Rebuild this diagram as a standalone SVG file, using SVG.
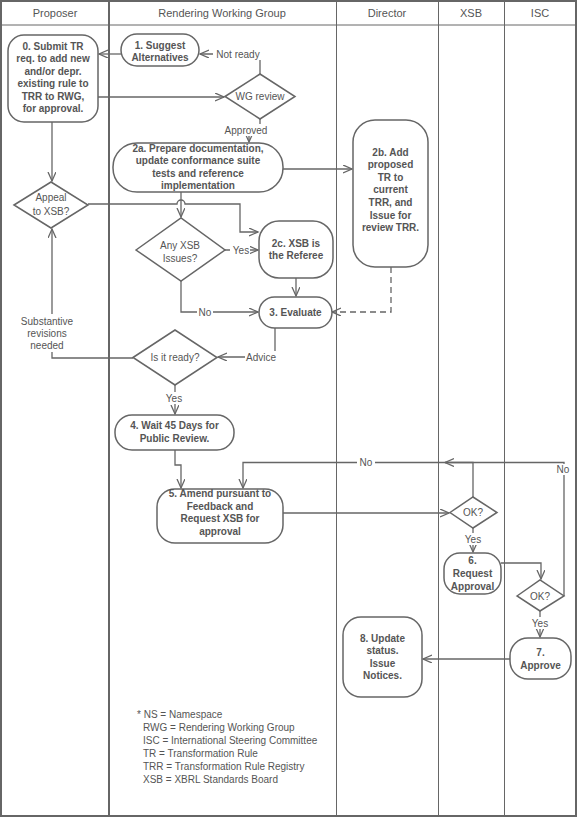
<svg xmlns="http://www.w3.org/2000/svg" width="577" height="817" viewBox="0 0 577 817">
<style>
.ln{stroke:#666;stroke-width:1.3;fill:none}
.nd{stroke:#666;stroke-width:1.5;fill:#fff}
.t{font-family:"Liberation Sans",Arial,sans-serif;font-size:10px;fill:#555;text-anchor:middle}
.b{font-weight:bold}
.h{font-family:"Liberation Sans",Arial,sans-serif;font-size:11px;fill:#555;text-anchor:middle}
.lg{font-family:"Liberation Sans",Arial,sans-serif;font-size:10px;fill:#555}
.bg{fill:#fff}
</style>
<defs>
<marker id="a" markerUnits="userSpaceOnUse" markerWidth="12" markerHeight="10" refX="9" refY="4" orient="auto">
<path d="M0,0 L9,4 L0,8" fill="none" stroke="#666" stroke-width="1.3"/>
</marker>
</defs>
<rect width="577" height="817" fill="#fff"/>
<g id="lanes">
<rect x="1" y="1" width="575" height="815" fill="none" stroke="#666" stroke-width="2"/>
<line x1="0" y1="25" x2="577" y2="25" stroke="#666" stroke-width="1"/>
<line x1="109" y1="0" x2="109" y2="817" stroke="#666" stroke-width="2"/>
<line x1="336.5" y1="0" x2="336.5" y2="817" stroke="#666" stroke-width="1"/>
<line x1="438.5" y1="0" x2="438.5" y2="817" stroke="#666" stroke-width="1"/>
<line x1="504.5" y1="0" x2="504.5" y2="817" stroke="#666" stroke-width="1"/>
<text class="h" x="55" y="17">Proposer</text>
<text class="h" x="222" y="17">Rendering Working Group</text>
<text class="h" x="387" y="17">Director</text>
<text class="h" x="471" y="17">XSB</text>
<text class="h" x="540" y="17">ISC</text>
</g>
<g id="connectors">
<path class="ln" d="M121,54 H99" marker-end="url(#a)"/>
<path class="ln" d="M260,74 V54 H200" marker-end="url(#a)"/>
<path class="ln" d="M98,97 H224" marker-end="url(#a)"/>
<path class="ln" d="M260,119 V130 H249 V142" marker-end="url(#a)"/>
<path class="ln" d="M283,169 H352" marker-end="url(#a)"/>
<path class="ln" d="M52,122 V181" marker-end="url(#a)"/>
<path class="ln" d="M88,204 H177 A4,4 0 0 1 185,204 H240 V232 H258" marker-end="url(#a)"/>
<path class="ln" d="M181,192 V217" marker-end="url(#a)"/>
<path class="ln" d="M225,250 H258" marker-end="url(#a)"/>
<path class="ln" d="M181,281 V312 H258" marker-end="url(#a)"/>
<path class="ln" d="M296,278 V296" marker-end="url(#a)"/>
<path class="ln" d="M391,267 V312 H332" stroke-dasharray="6,4" marker-end="url(#a)"/>
<path class="ln" d="M275,328 V357 H218" marker-end="url(#a)"/>
<path class="ln" d="M133,358 H52 V229" marker-end="url(#a)"/>
<path class="ln" d="M175,385 V414" marker-end="url(#a)"/>
<path class="ln" d="M175,450 V465 H181 V488" marker-end="url(#a)"/>
<path class="ln" d="M283,513 H449" marker-end="url(#a)"/>
<path class="ln" d="M473,497 V462.5 H243 V488" marker-end="url(#a)"/>
<path class="ln" d="M564,596 V462.5 H445" marker-end="url(#a)"/>
<path class="ln" d="M473,528 V552" marker-end="url(#a)"/>
<path class="ln" d="M501,563 H541 V579" marker-end="url(#a)"/>
<path class="ln" d="M540,611 V637" marker-end="url(#a)"/>
<path class="ln" d="M510,659 H423" marker-end="url(#a)"/>
<rect class="bg" x="213" y="48" width="51" height="12"/>
<text class="t" x="238" y="57.5">Not ready</text>
<rect class="bg" x="222" y="124" width="49" height="12"/>
<text class="t" x="246" y="133.5">Approved</text>
<rect class="bg" x="230" y="245" width="20" height="11"/>
<text class="t" x="241" y="253.5">Yes</text>
<rect class="bg" x="197" y="307" width="16" height="11"/>
<text class="t" x="205" y="315.5">No</text>
<rect class="bg" x="245" y="351" width="33" height="12"/>
<text class="t" x="261" y="360.5">Advice</text>
<rect class="bg" x="18" y="314" width="60" height="38"/>
<text class="t" x="47" y="324.5">Substantive</text>
<text class="t" x="47" y="336.5">revisions</text>
<text class="t" x="47" y="349">needed</text>
<rect class="bg" x="164" y="392" width="21" height="12"/>
<text class="t" x="174" y="401.5">Yes</text>
<rect class="bg" x="357" y="457" width="18" height="11"/>
<text class="t" x="366" y="465.5">No</text>
<rect class="bg" x="555" y="464" width="16" height="11"/>
<text class="t" x="563" y="472.5">No</text>
<rect class="bg" x="463" y="533" width="21" height="12"/>
<text class="t" x="473" y="542.5">Yes</text>
<rect class="bg" x="530" y="617" width="21" height="12"/>
<text class="t" x="540" y="626.5">Yes</text>
</g>
<g id="n0">
<rect class="nd" x="8" y="35" width="90" height="87" rx="16"/>
<text class="t b" x="53" y="49.5">0. Submit TR</text>
<text class="t b" x="53" y="62">req. to add new</text>
<text class="t b" x="53" y="74.5">and/or depr.</text>
<text class="t b" x="53" y="87">existing rule to</text>
<text class="t b" x="53" y="99.5">TRR to RWG,</text>
<text class="t b" x="53" y="112">for approval.</text>
</g>
<g id="n1">
<rect class="nd" x="121" y="34" width="78" height="32" rx="16"/>
<text class="t b" x="160" y="49">1. Suggest</text>
<text class="t b" x="160" y="61">Alternatives</text>
</g>
<g id="wg">
<polygon class="nd" points="225,96.5 260,74 295,96.5 260,119"/>
<text class="t" x="260" y="100">WG review</text>
</g>
<g id="n2a">
<rect class="nd" x="113" y="143" width="170" height="49" rx="24"/>
<text class="t b" x="198" y="151.5">2a. Prepare documentation,</text>
<text class="t b" x="198" y="164">update conformance suite</text>
<text class="t b" x="198" y="176.5">tests and reference</text>
<text class="t b" x="198" y="189">implementation</text>
</g>
<g id="n2b">
<rect class="nd" x="353" y="120" width="75" height="147" rx="22"/>
<text class="t b" x="390.5" y="155.5">2b. Add</text>
<text class="t b" x="390.5" y="168">proposed</text>
<text class="t b" x="390.5" y="180.5">TR to</text>
<text class="t b" x="390.5" y="193">current</text>
<text class="t b" x="390.5" y="206">TRR,  and</text>
<text class="t b" x="390.5" y="218.5">Issue for</text>
<text class="t b" x="390.5" y="231">review TRR.</text>
</g>
<g id="appeal">
<polygon class="nd" points="14,205 51,182 88,205 51,228"/>
<text class="t" x="51" y="200.5">Appeal</text>
<text class="t" x="51" y="214.5">to XSB?</text>
</g>
<g id="anyxsb">
<polygon class="nd" points="136,250 181,218 225,250 181,281"/>
<text class="t" x="180" y="248.5">Any XSB</text>
<text class="t" x="180" y="261.5">Issues?</text>
</g>
<g id="n2c">
<rect class="nd" x="259" y="221" width="74" height="57" rx="20"/>
<text class="t b" x="296" y="246.5">2c. XSB is</text>
<text class="t b" x="296" y="258.5">the Referee</text>
</g>
<g id="n3">
<rect class="nd" x="259" y="297" width="73" height="31" rx="15.5"/>
<text class="t b" x="295.5" y="316">3. Evaluate</text>
</g>
<g id="ready">
<polygon class="nd" points="133,357.5 175,330 217,357.5 175,385"/>
<text class="t" x="175" y="361">Is it ready?</text>
</g>
<g id="n4">
<rect class="nd" x="115" y="415" width="119" height="35" rx="17"/>
<text class="t b" x="174.5" y="428.5">4. Wait 45 Days for</text>
<text class="t b" x="174.5" y="441.5">Public Review.</text>
</g>
<g id="n5">
<rect class="nd" x="157" y="489" width="126" height="54" rx="18"/>
<text class="t b" x="220" y="497">5. Amend pursuant to</text>
<text class="t b" x="220" y="509.5">Feedback and</text>
<text class="t b" x="220" y="522">Request XSB for</text>
<text class="t b" x="220" y="534.5">approval</text>
</g>
<g id="xsbok">
<polygon class="nd" points="450,512.5 473,497 497,512.5 473,528"/>
<text class="t" x="473" y="516">OK?</text>
</g>
<g id="n6">
<rect class="nd" x="444" y="553" width="57" height="41" rx="16"/>
<text class="t b" x="472.5" y="563.5">6.</text>
<text class="t b" x="472.5" y="576.5">Request</text>
<text class="t b" x="472.5" y="589.5">Approval</text>
</g>
<g id="iscok">
<polygon class="nd" points="517,596 540,580 564,596 540,611"/>
<text class="t" x="540" y="599.5">OK?</text>
</g>
<g id="n7">
<rect class="nd" x="510" y="638" width="61" height="41" rx="18"/>
<text class="t b" x="540.5" y="655.5">7.</text>
<text class="t b" x="540.5" y="668.5">Approve</text>
</g>
<g id="n8">
<rect class="nd" x="343" y="617" width="79" height="80" rx="18"/>
<text class="t b" x="382.5" y="641.5">8. Update</text>
<text class="t b" x="382.5" y="654">status.</text>
<text class="t b" x="382.5" y="666.5">Issue</text>
<text class="t b" x="382.5" y="679">Notices.</text>
</g>
<g id="legend">
<text class="lg" x="137" y="718">* NS = Namespace</text>
<text class="lg" x="143" y="731">RWG = Rendering Working Group</text>
<text class="lg" x="143" y="744">ISC = International Steering Committee</text>
<text class="lg" x="143" y="757">TR = Transformation Rule</text>
<text class="lg" x="143" y="770">TRR = Transformation Rule Registry</text>
<text class="lg" x="143" y="783">XSB = XBRL Standards Board</text>
</g>
</svg>
